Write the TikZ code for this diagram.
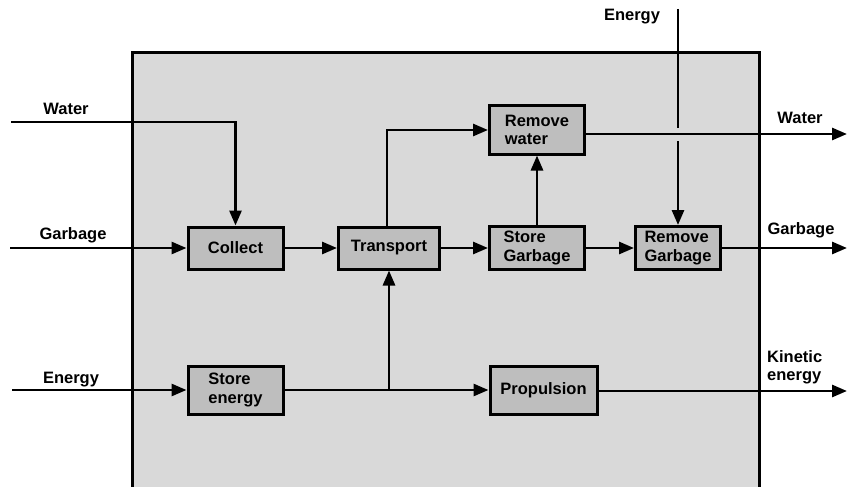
\documentclass[tikz,border=0pt]{standalone}
\usepackage{fontspec}
\setmainfont{Liberation Sans}
\usetikzlibrary{arrows.meta}
\definecolor{outerfill}{RGB}{217,217,217}
\definecolor{boxfill}{RGB}{190,190,190}
\tikzset{
  fn/.style={font=\bfseries\fontsize{16.5}{18.5}\selectfont},
  blk/.style={fn, draw, line width=3pt, fill=boxfill, align=left, inner sep=0pt},
  lbl/.style={fn, align=left, inner sep=0pt},
  flow/.style={line width=2.8pt, -{Triangle[length=15pt,width=12pt]}},
  ln/.style={line width=2.8pt}
}
\begin{document}
\begin{tikzpicture}[x=1pt,y=-1pt]
\useasboundingbox (0,0) rectangle (847,487);
% system boundary
\fill[outerfill] (132,53) rectangle (759,495);
\draw[line width=3pt] (132,495) -- (132,53) -- (759,53) -- (759,495);

% blocks
\node[blk, minimum width=95pt, minimum height=42pt] (col) at (235.5,248) {Collect};
\node[blk, minimum width=101pt, minimum height=42pt] (tra) at (389,248) {Transport};
\node[blk, minimum width=95pt, minimum height=48pt] (rw) at (537,130) {Remove\\water};
\node[blk, minimum width=95pt, minimum height=43pt] (sg) at (537,248) {Store\\Garbage};
\node[blk, minimum width=85pt, minimum height=43pt] (rg) at (678,248) {Remove\\Garbage};
\node[blk, minimum width=95pt, minimum height=48pt] (se) at (235.5,390) {Store\\energy};
\node[blk, minimum width=107pt, minimum height=48pt] (pro) at (543.5,390) {Propulsion};

% labels
\node[lbl] (lw) at (66,109) {Water};
\node[lbl] (lg) at (73,235) {Garbage};
\node[lbl] (le) at (71,380) {Energy};
\node[lbl] (te) at (632,17) {Energy};
\node[lbl] (rwl) at (800,118) {Water};
\node[lbl] (rgl) at (801,230) {Garbage};
\node[lbl, anchor=west] (rke) at (767,367.5) {Kinetic\\energy};

% free ends
\coordinate (win) at (11,122);
\coordinate (gin) at (10,248);
\coordinate (ein) at (12,390);
\coordinate (etop) at (678,9);
\coordinate (egapa) at (678,128);
\coordinate (egapb) at (678,141);
\coordinate (wout) at (847,134);
\coordinate (gout) at (847,248);
\coordinate (kout) at (847,391);
\coordinate (br) at (389,390);

% connectors
\draw[flow] (win) -| (col.north);
\draw[flow] (gin) -- (col.west);
\draw[flow] (ein) -- (se.west);
\draw[flow] (col.east) -- (tra.west);
\draw[flow] (tra.east) -- (sg.west);
\draw[flow] (sg.east) -- (rg.west);
\draw[flow] (rg.east) -- (gout);
\draw[flow] (sg.north) -- (rw.south);
\draw[flow] ([xshift=-2pt]tra.north) |- (rw.west);
\draw[flow] (rw.east |- wout) -- (wout);
\draw[ln] (etop) -- (egapa);
\draw[flow] (egapb) -- (rg.north);
\draw[flow] (se.east) -- (pro.west);
\draw[flow] (br) -- (tra.south);
\draw[flow] (pro.east |- kout) -- (kout);
\end{tikzpicture}
\end{document}
